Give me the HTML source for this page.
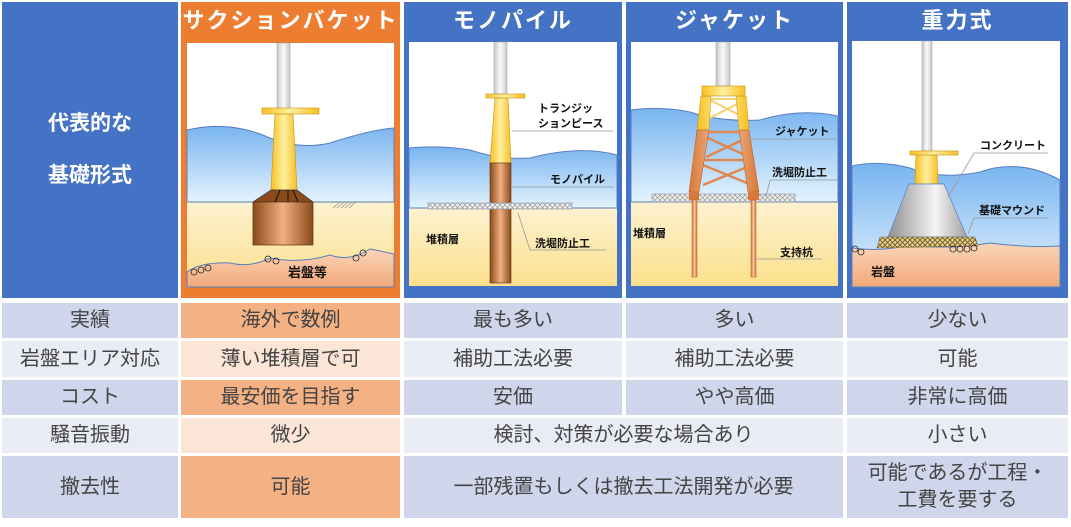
<!DOCTYPE html>
<html><head><meta charset="utf-8"><style>
body{margin:0;width:1071px;height:527px;background:#fff;position:relative;overflow:hidden;font-family:"Liberation Sans","Noto Sans CJK JP",sans-serif}
.c{position:absolute;display:flex;align-items:center;justify-content:center;text-align:center;color:#444;font-size:20px;line-height:27px}
.h{color:#fff;font-weight:bold;font-size:22px;align-items:flex-start;padding-top:5px;box-sizing:border-box;letter-spacing:2px}
.b{background:#4472C4}.o{background:#ED7D31}
.d{background:#CFD5EA}.l{background:#E9EBF5}.od{background:#F4B183}.ol{background:#FBE5D6}
svg{position:absolute;left:0;top:0}
</style></head><body>
<div class="c b" style="left:2px;top:2px;width:176px;height:296px;color:#fff;font-size:21px;font-weight:bold;line-height:52px">代表的な<br>基礎形式</div>
<div class="c h o" style="left:181px;top:2px;width:219px;height:296px">サクションバケット</div>
<div class="c h b" style="left:404px;top:2px;width:218px;height:296px">モノパイル</div>
<div class="c h b" style="left:626px;top:2px;width:217px;height:296px">ジャケット</div>
<div class="c h b" style="left:847px;top:2px;width:221px;height:296px">重力式</div>

<div class="c d" style="left:2px;top:303px;width:176px;height:35px">実績</div>
<div class="c od" style="left:181px;top:303px;width:219px;height:35px">海外で数例</div>
<div class="c d" style="left:404px;top:303px;width:218px;height:35px">最も多い</div>
<div class="c d" style="left:626px;top:303px;width:217px;height:35px">多い</div>
<div class="c d" style="left:847px;top:303px;width:221px;height:35px">少ない</div>

<div class="c l" style="left:2px;top:341px;width:176px;height:36px">岩盤エリア対応</div>
<div class="c ol" style="left:181px;top:341px;width:219px;height:36px">薄い堆積層で可</div>
<div class="c l" style="left:404px;top:341px;width:218px;height:36px">補助工法必要</div>
<div class="c l" style="left:626px;top:341px;width:217px;height:36px">補助工法必要</div>
<div class="c l" style="left:847px;top:341px;width:221px;height:36px">可能</div>

<div class="c d" style="left:2px;top:380px;width:176px;height:35px">コスト</div>
<div class="c od" style="left:181px;top:380px;width:219px;height:35px">最安価を目指す</div>
<div class="c d" style="left:404px;top:380px;width:218px;height:35px">安価</div>
<div class="c d" style="left:626px;top:380px;width:217px;height:35px">やや高価</div>
<div class="c d" style="left:847px;top:380px;width:221px;height:35px">非常に高価</div>

<div class="c l" style="left:2px;top:418px;width:176px;height:35px">騒音振動</div>
<div class="c ol" style="left:181px;top:418px;width:219px;height:35px">微少</div>
<div class="c l" style="left:404px;top:418px;width:439px;height:35px">検討、対策が必要な場合あり</div>
<div class="c l" style="left:847px;top:418px;width:221px;height:35px">小さい</div>

<div class="c d" style="left:2px;top:456px;width:176px;height:62px">撤去性</div>
<div class="c od" style="left:181px;top:456px;width:219px;height:62px">可能</div>
<div class="c d" style="left:404px;top:456px;width:439px;height:62px">一部残置もしくは撤去工法開発が必要</div>
<div class="c d" style="left:847px;top:456px;width:221px;height:62px">可能であるが工程・<br>工費を要する</div>

<svg width="1071" height="527" font-family="Liberation Sans,Noto Sans CJK JP,sans-serif" font-weight="bold" font-size="11">
<defs>
<linearGradient id="w" x1="0" y1="0" x2="0" y2="1"><stop offset="0" stop-color="#78B4F0"/><stop offset="1" stop-color="#E4F3FD"/></linearGradient>
<linearGradient id="s" x1="0" y1="0" x2="0" y2="1"><stop offset="0" stop-color="#FDF2D0"/><stop offset="1" stop-color="#FCE08C"/></linearGradient>
<linearGradient id="r" x1="0" y1="0" x2="0" y2="1"><stop offset="0" stop-color="#FAD6BA"/><stop offset="1" stop-color="#F2A878"/></linearGradient>
<linearGradient id="t" x1="0" x2="1"><stop offset="0" stop-color="#C8C8C8"/><stop offset=".5" stop-color="#FAFAFA"/><stop offset="1" stop-color="#C8C8C8"/></linearGradient>
<linearGradient id="y" x1="0" x2="1"><stop offset="0" stop-color="#F8C020"/><stop offset=".5" stop-color="#FDEFA0"/><stop offset="1" stop-color="#F8C020"/></linearGradient>
<linearGradient id="br" x1="0" x2="1"><stop offset="0" stop-color="#8A4A1A"/><stop offset=".5" stop-color="#F0B080"/><stop offset="1" stop-color="#8A4A1A"/></linearGradient>
<linearGradient id="or" x1="0" x2="1"><stop offset="0" stop-color="#D87838"/><stop offset=".5" stop-color="#F8C8A0"/><stop offset="1" stop-color="#D87838"/></linearGradient>
<linearGradient id="g" x1="0" x2="1"><stop offset="0" stop-color="#909090"/><stop offset=".6" stop-color="#F4F4F4"/><stop offset="1" stop-color="#A0A0A0"/></linearGradient>
<pattern id="m" width="5" height="5" patternUnits="userSpaceOnUse"><rect width="5" height="5" fill="#EEE"/><path d="M0 0L5 5M5 0L0 5" stroke="#999" stroke-width=".7"/></pattern>
<pattern id="mo" width="5" height="5" patternUnits="userSpaceOnUse"><rect width="5" height="5" fill="#E8D890"/><path d="M0 0L5 5M5 0L0 5" stroke="#7A6030" stroke-width="1"/></pattern>
</defs>

<g>
<rect x="187" y="43" width="207" height="244" fill="#fff"/>
<path d="M187 130 Q230 120 270 138 Q300 150 330 143 Q370 130 394 128 V202 H187Z" fill="url(#w)" stroke="#5A7FC0"/>
<rect x="187" y="202" width="207" height="85" fill="url(#s)"/>
<line x1="187" y1="202" x2="394" y2="202" stroke="#5A7FC0"/>
<path d="M187 272 Q200 262 230 263 Q250 268 270 258 Q300 264 330 255 Q350 262 370 249 Q385 252 394 254 V287 H187Z" fill="url(#r)" stroke="#5A7FC0"/>
<rect x="277" y="43" width="13" height="66" fill="url(#t)" stroke="#999" stroke-width=".5"/>
<path d="M275 114 L293 114 L297 190 L271 190Z" fill="url(#y)" stroke="#C89010" stroke-width=".6"/>
<rect x="262" y="108" width="57" height="6" fill="url(#y)" stroke="#C89010" stroke-width=".6"/>
<path d="M271 190 L297 190 L313 202 L253 202Z" fill="#8A4A1A" stroke="#333" stroke-width=".7"/>
<path d="M280 190 L275 202 M288 190 L288 202 M293 190 L298 202" stroke="#111" stroke-width="1"/>
<rect x="253" y="202" width="60" height="43" fill="url(#br)" stroke="#5A3010" stroke-width=".7"/>
<g fill="none" stroke="#222" stroke-width=".8"><circle cx="194" cy="272" r="3"/><circle cx="201" cy="270" r="3"/><circle cx="208" cy="268" r="3"/><circle cx="268" cy="259" r="3"/><circle cx="276" cy="261" r="3"/><circle cx="356" cy="258" r="3"/><circle cx="363" cy="253" r="3"/></g>
<text x="288" y="277" font-size="13" fill="#111">岩盤等</text>
<path d="M333 208 L340 202 M337 208 L344 202 M341 208 L348 202 M345 208 L352 202 M349 208 L356 202" stroke="#888" stroke-width=".6"/>
</g>

<g>
<rect x="409" y="42" width="208" height="244" fill="#fff"/>
<path d="M409 148 Q440 145 470 150 Q500 160 530 158 Q580 145 617 155 V208 H409Z" fill="url(#w)" stroke="#5A7FC0"/>
<rect x="409" y="208" width="208" height="78" fill="url(#s)"/>
<line x1="409" y1="208" x2="617" y2="208" stroke="#5A7FC0"/>
<rect x="494" y="42" width="13" height="52" fill="url(#t)" stroke="#999" stroke-width=".5"/>
<path d="M495 98 L508 98 L511 163 L490 163Z" fill="url(#y)" stroke="#C89010" stroke-width=".6"/>
<rect x="486" y="94" width="39" height="4" fill="url(#y)" stroke="#C89010" stroke-width=".6"/>
<rect x="490" y="163" width="21" height="120" fill="url(#br)" stroke="#5A3010" stroke-width=".6"/>
<rect x="428" y="203" width="144" height="6" fill="url(#m)" stroke="#8090B0" stroke-width=".6"/>
<g fill="#111" font-size="11"><text x="538" y="112">トランジッ</text><text x="538" y="127">ションピース</text><text x="550" y="183">モノパイル</text><text x="535" y="247">洗堀防止工</text><text x="426" y="243">堆積層</text></g>
<g stroke="#999" fill="none" stroke-width=".8"><path d="M512 131 H613"/><path d="M512 187 H614"/><path d="M606 250 H530 L518 213"/></g>
</g>

<g>
<rect x="631" y="42" width="207" height="244" fill="#fff"/>
<path d="M631 110 Q660 106 690 112 Q720 122 760 120 Q800 108 838 116 V202 H631Z" fill="url(#w)" stroke="#5A7FC0"/>
<rect x="631" y="202" width="207" height="84" fill="url(#s)"/>
<line x1="631" y1="202" x2="838" y2="202" stroke="#5A7FC0"/>
<rect x="652" y="194" width="143" height="8" fill="url(#m)" stroke="#8090B0" stroke-width=".6"/>
<rect x="716" y="42" width="14" height="44" fill="url(#t)" stroke="#999" stroke-width=".5"/>
<g stroke="#F8D070" stroke-width="2"><path d="M710 100 L745 118 M745 100 L710 118"/><line x1="710" y1="99" x2="745" y2="99"/></g>
<g stroke="#E08850" stroke-width="2.5"><line x1="706" y1="132" x2="749" y2="132"/><line x1="703" y1="160" x2="752" y2="160"/><path d="M706 137 L749 157 M749 137 L706 157 M703 165 L752 185 M752 165 L703 185"/></g>
<path d="M701 96 L711 96 L709 130 L697 130Z M736 96 L746 96 L749 130 L739 130Z" fill="url(#y)" stroke="#C89010" stroke-width=".5"/>
<path d="M697 130 L709 130 L699 192 L689 192Z M739 130 L749 130 L759 192 L748 192Z" fill="url(#or)" stroke="#B05A20" stroke-width=".5"/>
<rect x="702" y="86" width="43" height="10" fill="url(#y)" stroke="#C89010" stroke-width=".6"/>
<rect x="689" y="192" width="10" height="8" fill="#D87838"/><rect x="748" y="192" width="11" height="8" fill="#D87838"/>
<rect x="692" y="200" width="5" height="77" fill="url(#or)" stroke="#B05A20" stroke-width=".5"/>
<rect x="751" y="200" width="5" height="77" fill="url(#or)" stroke="#B05A20" stroke-width=".5"/>
<g fill="#111"><text x="775" y="135">ジャケット</text><text x="772" y="176">洗堀防止工</text><text x="780" y="256">支持杭</text><text x="633" y="237">堆積層</text></g>
<g stroke="#999" fill="none" stroke-width=".8"><path d="M750 139 H838"/><path d="M838 180 H770 L766 197"/><path d="M757 259 H822"/></g>
</g>

<g>
<rect x="852" y="41" width="208" height="246" fill="#fff"/>
<path d="M852 166 Q880 160 910 168 Q940 180 980 172 Q1020 158 1060 180 V287 H852Z" fill="url(#w)" stroke="#5A7FC0"/>
<path d="M852 248 Q880 252 910 245 Q950 250 990 243 Q1030 248 1060 246 V287 H852Z" fill="url(#r)" stroke="#5A7FC0"/>
<rect x="922" y="41" width="10" height="110" fill="url(#t)" stroke="#999" stroke-width=".5"/>
<path d="M916 155 L937 155 L938 184 L915 184Z" fill="url(#y)" stroke="#C89010" stroke-width=".6"/>
<rect x="910" y="151" width="48" height="4" fill="url(#y)" stroke="#C89010" stroke-width=".6"/>
<path d="M909 184 L944 184 L967 237 L888 237Z" fill="url(#g)" stroke="#5A7FC0" stroke-width=".7"/>
<path d="M880 237 L975 237 L978 246 L877 248Z" fill="url(#mo)" stroke="#7A6030" stroke-width=".5"/>
<g fill="none" stroke="#222" stroke-width=".8"><circle cx="855" cy="249" r="3"/><circle cx="861" cy="252" r="3"/><circle cx="953" cy="249" r="3"/><circle cx="960" cy="249" r="3"/><circle cx="967" cy="249" r="3"/><circle cx="974" cy="248" r="3"/></g>
<g fill="#111"><text x="980" y="149">コンクリート</text><text x="979" y="214">基礎マウンド</text><text x="871" y="276" font-size="12">岩盤</text></g>
<g stroke="#999" fill="none" stroke-width=".8"><path d="M1048 153 H974 L948 197"/><path d="M1048 218 H974 L968 234"/></g>
</g>
</svg>
</body></html>
